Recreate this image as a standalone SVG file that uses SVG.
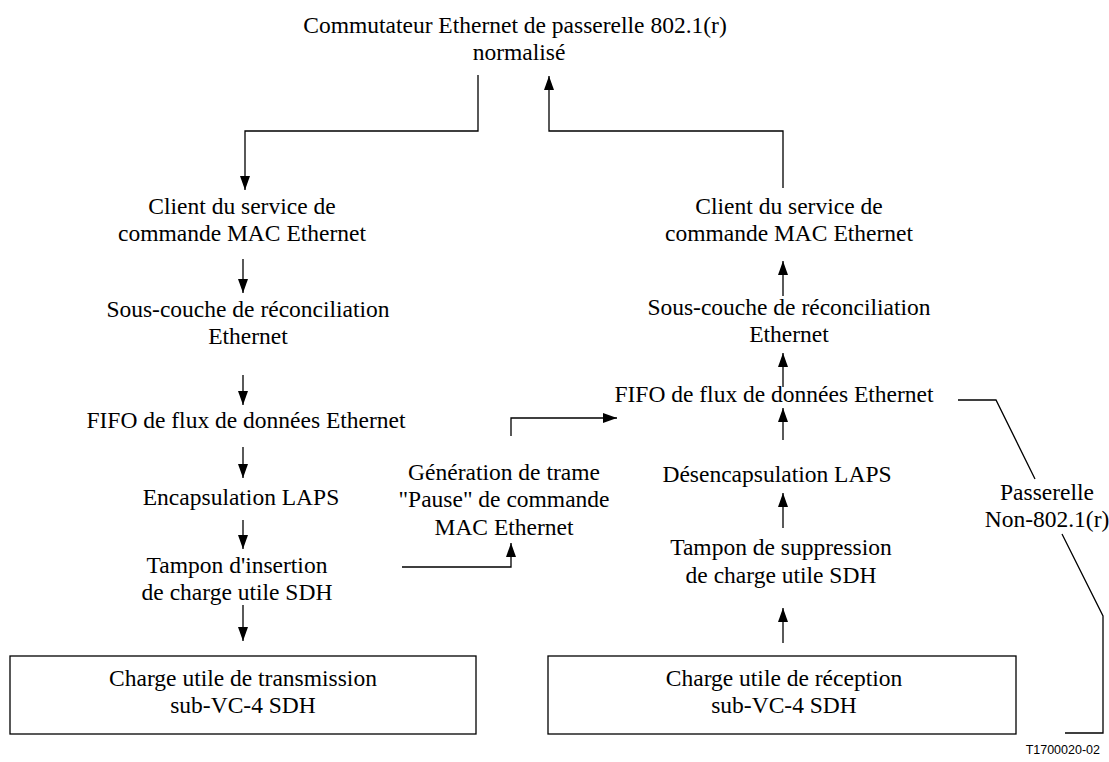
<svg xmlns="http://www.w3.org/2000/svg" width="1109" height="762" viewBox="0 0 1109 762">
<style>
text{font-family:"Liberation Serif","Times New Roman",serif;font-size:23.5px;fill:#000;text-anchor:middle}
.ln{fill:none;stroke:#000;stroke-width:1.3}
.ar{fill:none;stroke:#000;stroke-width:1.3;marker-end:url(#ah)}
.box{fill:#fff;stroke:#000;stroke-width:1.3}
.code{font-family:"Liberation Sans",Arial,sans-serif;font-size:12.5px;text-anchor:end}
</style>
<defs>
<marker id="ah" viewBox="0 0 14 10" refX="14" refY="5" markerWidth="14" markerHeight="10" markerUnits="userSpaceOnUse" orient="auto">
<path d="M0,0 L14,5 L0,10 z" fill="#000"/>
</marker>
</defs>
<rect width="1109" height="762" fill="#fff"/>
<g id="connectors">
<polyline class="ar" points="478,75 478,131 245,131 245,190"/>
<polyline class="ar" points="783,188 783,131 549,131 549,76"/>
<line class="ar" x1="243" y1="259" x2="243" y2="293"/>
<line class="ar" x1="243" y1="375" x2="243" y2="405"/>
<line class="ar" x1="243" y1="447" x2="243" y2="478"/>
<line class="ar" x1="243" y1="520" x2="243" y2="549"/>
<line class="ar" x1="243" y1="605" x2="243" y2="641"/>
<line class="ar" x1="783" y1="296" x2="783" y2="261"/>
<line class="ar" x1="783" y1="387" x2="783" y2="353"/>
<line class="ar" x1="783" y1="440" x2="783" y2="408"/>
<line class="ar" x1="783" y1="528" x2="783" y2="493"/>
<line class="ar" x1="783" y1="643" x2="783" y2="608"/>
<polyline class="ar" points="511,436 511,418 617,418"/>
<polyline class="ar" points="402,567 511,567 511,543"/>
<polyline class="ln" points="958,400 996,400 1035,479"/>
<polyline class="ln" points="1062,534 1103,616 1103,733 1065,733"/>
</g>
<g id="title"><text x="515" y="33">Commutateur Ethernet de passerelle 802.1(r)</text><text x="519" y="60">normalisé</text></g>
<g id="tx-client"><text x="242" y="214">Client du service de</text><text x="242" y="241">commande MAC Ethernet</text></g>
<g id="tx-reconc"><text x="248" y="317">Sous-couche de réconciliation</text><text x="248" y="344">Ethernet</text></g>
<g id="tx-fifo"><text x="246" y="428">FIFO de flux de données Ethernet</text></g>
<g id="tx-encap"><text x="241" y="505">Encapsulation LAPS</text></g>
<g id="tx-tampon"><text x="237" y="573">Tampon d'insertion</text><text x="237" y="600">de charge utile SDH</text></g>
<g id="tx-payload"><rect class="box" x="10" y="656" width="466" height="78"/><text x="243" y="686">Charge utile de transmission</text><text x="243" y="713">sub-VC-4 SDH</text></g>
<g id="pause"><text x="504" y="480">Génération de trame</text><text x="504" y="507">"Pause" de commande</text><text x="504" y="535">MAC Ethernet</text></g>
<g id="rx-client"><text x="789" y="214">Client du service de</text><text x="789" y="241">commande MAC Ethernet</text></g>
<g id="rx-reconc"><text x="789" y="315">Sous-couche de réconciliation</text><text x="789" y="342">Ethernet</text></g>
<g id="rx-fifo"><text x="774" y="402">FIFO de flux de données Ethernet</text></g>
<g id="rx-decap"><text x="777" y="482">Désencapsulation LAPS</text></g>
<g id="rx-tampon"><text x="781" y="555">Tampon de suppression</text><text x="781" y="583">de charge utile SDH</text></g>
<g id="rx-payload"><rect class="box" x="548" y="656" width="468" height="78"/><text x="784" y="686">Charge utile de réception</text><text x="784" y="713">sub-VC-4 SDH</text></g>
<g id="gateway"><text x="1047" y="500">Passerelle</text><text x="1047" y="527">Non-802.1(r)</text></g>
<text class="code" x="1100" y="754">T1700020-02</text>
</svg>
